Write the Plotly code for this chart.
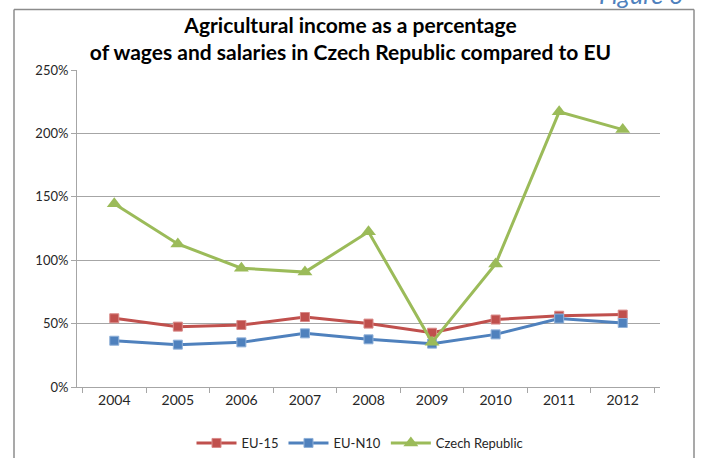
import plotly.graph_objects as go

years = ["2004", "2005", "2006", "2007", "2008", "2009", "2010", "2011", "2012"]
eu15 = [0.542, 0.476, 0.489, 0.552, 0.500, 0.428, 0.532, 0.562, 0.571]
eun10 = [0.365, 0.334, 0.352, 0.423, 0.376, 0.342, 0.415, 0.540, 0.505]
czech = [1.445, 1.128, 0.937, 0.906, 1.224, 0.352, 0.970, 2.170, 2.030]

series_names = ["EU-15", "EU-N10", "Czech Republic"]
series_colors = ["#C0504D", "#4F81BD", "#9BBB59"]

W, H = 701, 458
L, R, T, B = 77, 660, 70, 387

fig = go.Figure()
fig.add_trace(go.Scatter(x=years, y=eu15, name=series_names[0], mode="lines+markers",
                         line=dict(color=series_colors[0], width=3),
                         marker=dict(symbol="square", size=9, color=series_colors[0],
                                     line=dict(color="#D98A88", width=1))))
fig.add_trace(go.Scatter(x=years, y=eun10, name=series_names[1], mode="lines+markers",
                         line=dict(color=series_colors[1], width=3),
                         marker=dict(symbol="square", size=9, color=series_colors[1],
                                     line=dict(color="#8FB0D8", width=1))))
fig.add_trace(go.Scatter(x=years, y=czech, name=series_names[2], mode="lines+markers",
                         line=dict(color=series_colors[2], width=3),
                         marker=dict(symbol="triangle-up", size=13, color=series_colors[2])))

def px_x(p):
    return (p - L) / (R - L)

def px_y(p):
    return (B - p) / (B - T)

border = dict(type="line", xref="paper", yref="paper", line=dict(color="#8C8C8C", width=1.5))
fig.add_shape(**border, x0=px_x(14), x1=px_x(14), y0=px_y(9.5), y1=px_y(470))
fig.add_shape(**border, x0=px_x(14), x1=px_x(694), y0=px_y(9.5), y1=px_y(9.5))
fig.add_shape(**border, x0=px_x(694), x1=px_x(694), y0=px_y(9.5), y1=px_y(470))

fig.add_annotation(text="<i>Figure 6</i>", xref="paper", yref="paper",
                   x=px_x(684), y=px_y(11), xanchor="right", yanchor="bottom",
                   showarrow=False, font=dict(family="Lato", size=25, color="#4F81BD"))

fig.update_layout(
    width=W, height=H,
    margin=dict(l=L, r=W - R, t=T, b=H - B, autoexpand=False),
    paper_bgcolor="white", plot_bgcolor="white",
    title=dict(text="<b>Agricultural income as a percentage<br>of wages and salaries in Czech Republic compared to EU</b>",
               x=0.5, xanchor="center", xref="container", y=1 - 33 / H, yanchor="middle",
               font=dict(family="Lato", size=21, color="black")),
    font=dict(family="Lato", size=13, color="#262626"),
    showlegend=True,
    legend=dict(orientation="h", x=px_x(360), xanchor="center", y=px_y(443), yanchor="middle",
                font=dict(family="Lato", size=13, color="#262626"), itemwidth=40,
                bgcolor="rgba(0,0,0,0)"),
    xaxis=dict(type="category", showline=True, linecolor="#A6A6A6", linewidth=1,
               ticks="outside", tickson="boundaries", ticklen=5, tickcolor="#A6A6A6",
               showgrid=False, zeroline=False, fixedrange=True, automargin=False,
               tickfont=dict(size=14)),
    yaxis=dict(range=[0, 2.5], dtick=0.5, tickformat=".0%", showline=True,
               linecolor="#A6A6A6", linewidth=1, ticks="outside", ticklen=5,
               tickcolor="#A6A6A6", showgrid=True, gridcolor="#A6A6A6", gridwidth=1,
               zeroline=False, fixedrange=True, automargin=False,
               tickfont=dict(size=13)),
)

fig.write_html("out.html", config={"displayModeBar": False},
               post_script="document.body.style.margin='0';document.body.style.overflow='hidden';")
